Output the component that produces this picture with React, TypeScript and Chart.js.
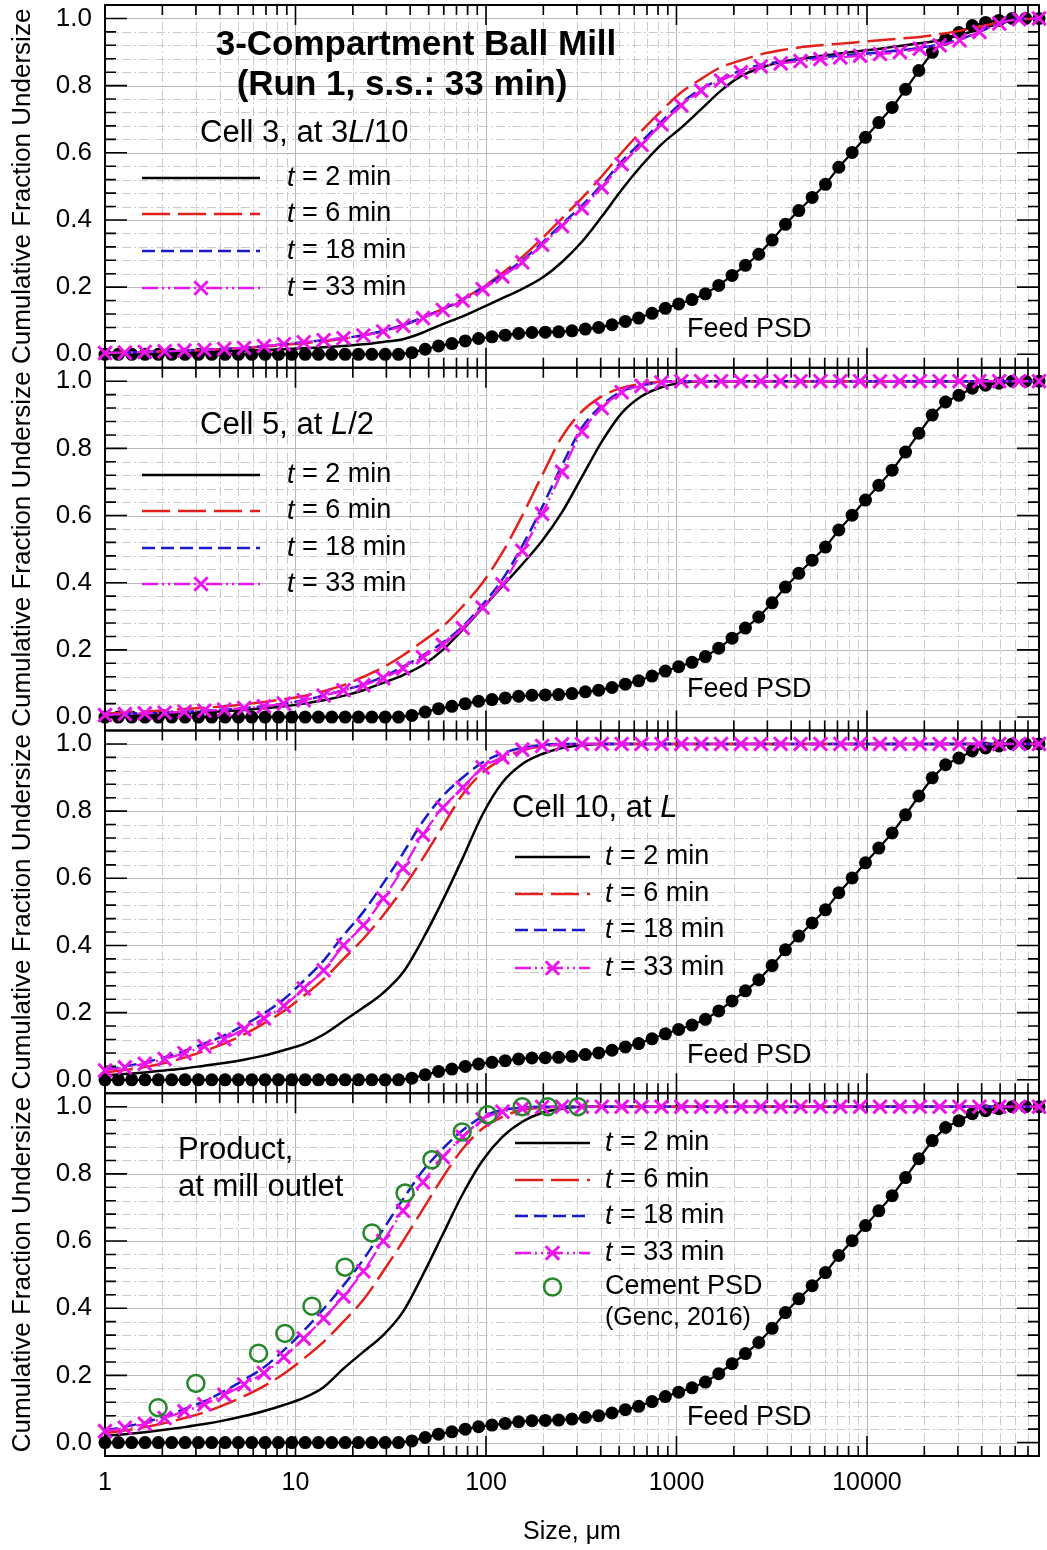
import React, { useEffect, useRef } from "react";
import { Chart, registerables } from "chart.js";

Chart.register(...registerables);

const FONT = "'Liberation Sans', Arial, Helvetica, sans-serif";

const X_MIN = 1;
const X_MAX = 80000;
const Y_MIN = -0.04;
const Y_MAX = 1.04;

const X_TICKS = [1, 10, 100, 1000, 10000];
const Y_TICKS = [0, 0.2, 0.4, 0.6, 0.8, 1.0];

// model size classes (µm)
const MODEL_SIZES = [1, 1.271, 1.617, 2.056, 2.614, 3.323, 4.226, 5.374, 6.833, 8.688, 11.05, 14.05, 17.86, 22.71, 28.88, 36.72, 46.69, 59.37, 75.49, 95.97, 122.0, 155.1, 197.2, 250.8, 318.9, 405.5, 515.6, 655.6, 833.7, 1060, 1348, 1714, 2179, 2771, 3524, 4480, 5697, 7244, 9210, 11710, 14890, 18930, 24070, 30610, 38920, 49490, 62920, 80000];

// feed PSD
const FEED_SIZES = [1, 1.175, 1.381, 1.622, 1.906, 2.24, 2.632, 3.093, 3.634, 4.27, 5.017, 5.894, 6.926, 8.138, 9.563, 11.24, 13.2, 15.51, 18.23, 21.42, 25.17, 29.57, 34.75, 40.83, 47.97, 56.37, 66.23, 77.83, 91.45, 107.5, 126.2, 148.4, 174.3, 204.8, 240.7, 282.8, 332.3, 390.5, 458.8, 539.1, 633.4, 744.3, 874.6, 1027, 1207, 1419, 1667, 1959, 2301, 2704, 3177, 3733, 4386, 5154, 6056, 7116, 8361, 9824, 11540, 13560, 15940, 18730, 22010, 25860, 30380, 35700, 41950, 49290, 57910, 68050, 80000];
const FEED_PSD = [0, 0, 0, 0, 0, 0, 0, 0, 0, 0,
  0, 0, 0, 0, 0, 0, 0, 0, 0, 0,
  0, 0, 0, 0.005, 0.015, 0.025, 0.032, 0.04, 0.047, 0.052,
  0.057, 0.062, 0.065, 0.066, 0.067, 0.07, 0.075, 0.08, 0.088, 0.098,
  0.108, 0.122, 0.137, 0.15, 0.163, 0.18, 0.205, 0.235, 0.265, 0.298,
  0.34, 0.387, 0.428, 0.467, 0.506, 0.557, 0.601, 0.646, 0.69, 0.735,
  0.789, 0.845, 0.899, 0.938, 0.958, 0.979, 0.988, 0.994, 1, 1,
  1];

// Cell 3, at 3L/10
const CELL3_T2 = [0.003, 0.004, 0.005, 0.006, 0.007, 0.008, 0.009, 0.011, 0.013, 0.015, 0.018, 0.021, 0.025, 0.03, 0.037, 0.045, 0.065, 0.09, 0.113, 0.14, 0.167, 0.195, 0.228, 0.275, 0.335, 0.41, 0.49, 0.562, 0.625, 0.675, 0.73, 0.785, 0.828, 0.853, 0.87, 0.88, 0.888, 0.896, 0.903, 0.91, 0.918, 0.926, 0.935, 0.95, 0.967, 0.985, 0.996, 1];
const CELL3_T6 = [0.004, 0.005, 0.007, 0.009, 0.011, 0.013, 0.016, 0.019, 0.023, 0.028, 0.033, 0.039, 0.046, 0.057, 0.069, 0.087, 0.11, 0.135, 0.165, 0.2, 0.242, 0.29, 0.345, 0.405, 0.465, 0.53, 0.6, 0.665, 0.725, 0.78, 0.82, 0.855, 0.875, 0.893, 0.905, 0.914, 0.92, 0.925, 0.93, 0.935, 0.94, 0.945, 0.953, 0.963, 0.975, 0.988, 0.997, 1];
const CELL3_T18 = [0.004, 0.005, 0.007, 0.009, 0.011, 0.013, 0.016, 0.019, 0.025, 0.03, 0.036, 0.042, 0.048, 0.057, 0.07, 0.087, 0.11, 0.135, 0.163, 0.198, 0.236, 0.28, 0.332, 0.388, 0.443, 0.505, 0.574, 0.633, 0.693, 0.748, 0.79, 0.82, 0.845, 0.862, 0.871, 0.878, 0.884, 0.889, 0.894, 0.899, 0.905, 0.913, 0.923, 0.937, 0.96, 0.985, 0.998, 1];
const CELL3_T33 = [0.004, 0.005, 0.007, 0.009, 0.011, 0.013, 0.016, 0.019, 0.025, 0.03, 0.036, 0.042, 0.048, 0.056, 0.068, 0.085, 0.108, 0.132, 0.16, 0.194, 0.232, 0.274, 0.326, 0.382, 0.435, 0.497, 0.566, 0.624, 0.685, 0.741, 0.785, 0.815, 0.84, 0.857, 0.866, 0.873, 0.879, 0.884, 0.889, 0.894, 0.9, 0.91, 0.92, 0.935, 0.96, 0.985, 0.998, 1];

// Cell 5, at L/2
const CELL5_T2 = [0.003, 0.005, 0.007, 0.009, 0.011, 0.014, 0.017, 0.021, 0.026, 0.032, 0.04, 0.05, 0.063, 0.08, 0.102, 0.125, 0.155, 0.2, 0.26, 0.325, 0.39, 0.455, 0.525, 0.61, 0.715, 0.82, 0.905, 0.955, 0.982, 0.995, 1, 1, 1, 1, 1, 1, 1, 1, 1, 1, 1, 1, 1, 1, 1, 1, 1, 1];
const CELL5_T6 = [0.01, 0.013, 0.016, 0.02, 0.024, 0.028, 0.032, 0.038, 0.045, 0.053, 0.063, 0.077, 0.095, 0.12, 0.148, 0.184, 0.226, 0.27, 0.33, 0.4, 0.49, 0.6, 0.72, 0.835, 0.91, 0.955, 0.98, 0.992, 0.998, 1, 1, 1, 1, 1, 1, 1, 1, 1, 1, 1, 1, 1, 1, 1, 1, 1, 1, 1];
const CELL5_T18 = [0.006, 0.009, 0.011, 0.013, 0.016, 0.019, 0.022, 0.027, 0.032, 0.04, 0.05, 0.064, 0.08, 0.097, 0.12, 0.15, 0.184, 0.222, 0.27, 0.335, 0.41, 0.51, 0.625, 0.75, 0.862, 0.928, 0.97, 0.988, 0.997, 1, 1, 1, 1, 1, 1, 1, 1, 1, 1, 1, 1, 1, 1, 1, 1, 1, 1, 1];
const CELL5_T33 = [0.006, 0.009, 0.011, 0.013, 0.016, 0.019, 0.022, 0.027, 0.032, 0.04, 0.05, 0.064, 0.08, 0.095, 0.116, 0.145, 0.178, 0.215, 0.265, 0.326, 0.395, 0.495, 0.605, 0.73, 0.85, 0.92, 0.967, 0.986, 0.996, 1, 1, 1, 1, 1, 1, 1, 1, 1, 1, 1, 1, 1, 1, 1, 1, 1, 1, 1];

// Cell 10, at L
const CELL10_T2 = [0.013, 0.017, 0.022, 0.028, 0.034, 0.042, 0.05, 0.06, 0.072, 0.088, 0.106, 0.135, 0.175, 0.215, 0.259, 0.32, 0.42, 0.535, 0.66, 0.79, 0.885, 0.94, 0.97, 0.988, 0.996, 1, 1, 1, 1, 1, 1, 1, 1, 1, 1, 1, 1, 1, 1, 1, 1, 1, 1, 1, 1, 1, 1, 1];
const CELL10_T6 = [0.022, 0.029, 0.038, 0.05, 0.066, 0.086, 0.108, 0.135, 0.168, 0.205, 0.25, 0.3, 0.36, 0.42, 0.49, 0.57, 0.66, 0.755, 0.85, 0.915, 0.955, 0.98, 0.993, 0.998, 1, 1, 1, 1, 1, 1, 1, 1, 1, 1, 1, 1, 1, 1, 1, 1, 1, 1, 1, 1, 1, 1, 1, 1];
const CELL10_T18 = [0.03, 0.04, 0.052, 0.067, 0.086, 0.108, 0.132, 0.163, 0.198, 0.24, 0.295, 0.355, 0.43, 0.5, 0.585, 0.675, 0.77, 0.845, 0.9, 0.945, 0.972, 0.988, 0.997, 1, 1, 1, 1, 1, 1, 1, 1, 1, 1, 1, 1, 1, 1, 1, 1, 1, 1, 1, 1, 1, 1, 1, 1, 1];
const CELL10_T33 = [0.028, 0.037, 0.048, 0.062, 0.079, 0.1, 0.121, 0.151, 0.183, 0.22, 0.272, 0.326, 0.4, 0.46, 0.54, 0.63, 0.73, 0.81, 0.87, 0.93, 0.96, 0.983, 0.994, 0.999, 1, 1, 1, 1, 1, 1, 1, 1, 1, 1, 1, 1, 1, 1, 1, 1, 1, 1, 1, 1, 1, 1, 1, 1];

// Product, at mill outlet
const PRODUCT_T2 = [0.02, 0.025, 0.031, 0.038, 0.046, 0.055, 0.066, 0.079, 0.094, 0.112, 0.133, 0.165, 0.22, 0.27, 0.32, 0.39, 0.5, 0.62, 0.74, 0.84, 0.91, 0.955, 0.982, 0.994, 1, 1, 1, 1, 1, 1, 1, 1, 1, 1, 1, 1, 1, 1, 1, 1, 1, 1, 1, 1, 1, 1, 1, 1];
const PRODUCT_T6 = [0.028, 0.036, 0.046, 0.058, 0.073, 0.09, 0.112, 0.138, 0.168, 0.205, 0.25, 0.3, 0.36, 0.425, 0.51, 0.6, 0.695, 0.79, 0.875, 0.935, 0.97, 0.99, 0.997, 1, 1, 1, 1, 1, 1, 1, 1, 1, 1, 1, 1, 1, 1, 1, 1, 1, 1, 1, 1, 1, 1, 1, 1, 1];
const PRODUCT_T18 = [0.036, 0.047, 0.06, 0.078, 0.1, 0.123, 0.153, 0.187, 0.224, 0.275, 0.333, 0.398, 0.468, 0.545, 0.635, 0.725, 0.81, 0.875, 0.93, 0.97, 0.99, 0.997, 1, 1, 1, 1, 1, 1, 1, 1, 1, 1, 1, 1, 1, 1, 1, 1, 1, 1, 1, 1, 1, 1, 1, 1, 1, 1];
const PRODUCT_T33 = [0.034, 0.044, 0.056, 0.073, 0.093, 0.114, 0.142, 0.173, 0.207, 0.255, 0.31, 0.37, 0.435, 0.51, 0.6, 0.69, 0.775, 0.85, 0.91, 0.962, 0.985, 0.995, 0.999, 1, 1, 1, 1, 1, 1, 1, 1, 1, 1, 1, 1, 1, 1, 1, 1, 1, 1, 1, 1, 1, 1, 1, 1, 1];

// Cement PSD (Genc, 2016)
const CEMENT_SIZES = [1.9, 3.0, 6.4, 8.8, 12.2, 18.2, 25.2, 37.6, 52, 75, 102, 155, 211, 304];
const CEMENT_PSD = [0.104, 0.176, 0.266, 0.325, 0.406, 0.522, 0.624, 0.743, 0.842, 0.925, 0.976, 1, 1, 1];

const SERIES = [
  { label: "2", color: "#000000", dash: [], width: 2.5, marker: false },
  { label: "6", color: "#e3211c", dash: [28, 8], width: 2.5, marker: false },
  { label: "18", color: "#1a1ac8", dash: [13, 6], width: 2.5, marker: false },
  { label: "33", color: "#ec14ec", dash: [16, 4, 2, 4, 2, 4], width: 2.3, marker: true },
];
const FEED_COLOR = "#000000";
const CEMENT_COLOR = "#25872a";

const PANELS = [
  { id: "y1", series: [CELL3_T2, CELL3_T6, CELL3_T18, CELL3_T33], cement: false },
  { id: "y2", series: [CELL5_T2, CELL5_T6, CELL5_T18, CELL5_T33], cement: false },
  { id: "y3", series: [CELL10_T2, CELL10_T6, CELL10_T18, CELL10_T33], cement: false },
  { id: "y4", series: [PRODUCT_T2, PRODUCT_T6, PRODUCT_T18, PRODUCT_T33], cement: true },
];

// annotation layout (pixel positions on the canvas)
const NOTES = [
  {
    texts: [
      { parts: [["3-Compartment Ball Mill", false]], x: 416, y: 45, size: 35, bold: true, align: "center" },
      { parts: [["(Run 1, s.s.: 33 min)", false]], x: 402, y: 85, size: 35, bold: true, align: "center" },
      { parts: [["Cell 3, at 3", false], ["L", true], ["/10", false]], x: 200, y: 133, size: 31 },
    ],
    legend: { x1: 142, x2: 260, tx: 287, rows: [178, 214, 251, 288] },
    feedY: 330,
  },
  {
    texts: [{ parts: [["Cell 5, at ", false], ["L", true], ["/2", false]], x: 200, y: 425, size: 31 }],
    legend: { x1: 142, x2: 260, tx: 287, rows: [475, 511, 548, 584] },
    feedY: 690,
  },
  {
    texts: [{ parts: [["Cell 10, at ", false], ["L", true]], x: 512, y: 808, size: 31 }],
    legend: { x1: 515, x2: 590, tx: 605, rows: [857, 894, 930, 968] },
    feedY: 1056,
  },
  {
    texts: [
      { parts: [["Product,", false]], x: 178, y: 1150, size: 31 },
      { parts: [["at mill outlet", false]], x: 178, y: 1187, size: 31 },
    ],
    legend: { x1: 515, x2: 590, tx: 605, rows: [1143, 1180, 1216, 1253] },
    cementRow: { y: 1287, y2: 1318 },
    feedY: 1418,
  },
];

function fontStr(size: number, italic: boolean, bold?: boolean) {
  return `${italic ? "italic " : ""}${bold ? "bold " : ""}${size}px ${FONT}`;
}

function drawParts(ctx: CanvasRenderingContext2D, parts: any[], x: number, y: number, size: number, bold?: boolean, align?: string) {
  const widths = parts.map(([t, it]) => {
    ctx.font = fontStr(size, it, bold);
    return ctx.measureText(t).width;
  });
  const total = widths.reduce((a: number, b: number) => a + b, 0);
  let cx = align === "center" ? x - total / 2 : x;
  ctx.fillStyle = "#000";
  ctx.textAlign = "left";
  ctx.textBaseline = "middle";
  parts.forEach(([t, it]: any, i: number) => {
    ctx.font = fontStr(size, it, bold);
    ctx.fillText(t, cx, y);
    cx += widths[i];
  });
}

function drawCross(ctx: CanvasRenderingContext2D, x: number, y: number, r: number, color: string, w: number) {
  const o = r * Math.SQRT1_2;
  ctx.save();
  ctx.setLineDash([]);
  ctx.strokeStyle = color;
  ctx.lineWidth = w;
  ctx.beginPath();
  ctx.moveTo(x - o, y - o);
  ctx.lineTo(x + o, y + o);
  ctx.moveTo(x - o, y + o);
  ctx.lineTo(x + o, y - o);
  ctx.stroke();
  ctx.restore();
}

const decorPlugin = {
  id: "panelDecor",
  beforeDatasetsDraw(chart: any) {
    const { ctx, chartArea } = chart;
    const xs = chart.scales.x;
    const { left, right } = chartArea;
    const xGrid: any[] = [];
    for (let d = 0; d < 5; d++) {
      for (let m = 1; m <= 9; m++) {
        const v = m * Math.pow(10, d);
        if (v >= X_MIN && v <= X_MAX) xGrid.push({ v, major: m === 1 });
      }
    }
    const yGrid: any[] = [];
    for (let k = 0; k <= 25; k++) yGrid.push({ v: k * 0.04, major: k % 5 === 0 });

    PANELS.forEach((p) => {
      const ys = chart.scales[p.id];
      const top = ys.top;
      const bottom = ys.bottom;
      ctx.save();
      ctx.lineWidth = 1;
      xGrid.forEach((g) => {
        const px = Math.round(xs.getPixelForValue(g.v)) + 0.5;
        ctx.strokeStyle = g.major ? "#b8b8b8" : "#cbcbcb";
        ctx.setLineDash(g.major ? [] : [9, 3, 2, 3]);
        ctx.beginPath();
        ctx.moveTo(px, top);
        ctx.lineTo(px, bottom);
        ctx.stroke();
      });
      yGrid.forEach((g) => {
        const py = Math.round(ys.getPixelForValue(g.v)) + 0.5;
        ctx.strokeStyle = g.major ? "#b8b8b8" : "#cbcbcb";
        ctx.setLineDash(g.major ? [] : [9, 3, 2, 3]);
        ctx.beginPath();
        ctx.moveTo(left, py);
        ctx.lineTo(right, py);
        ctx.stroke();
      });
      ctx.setLineDash([]);
      ctx.strokeStyle = "#000";
      ctx.lineWidth = 1.6;
      ctx.beginPath();
      xGrid.forEach((g) => {
        const px = xs.getPixelForValue(g.v);
        const len = g.major ? 20 : 10;
        ctx.moveTo(px, top);
        ctx.lineTo(px, top + len);
        ctx.moveTo(px, bottom);
        ctx.lineTo(px, bottom - len);
      });
      yGrid.forEach((g) => {
        const py = ys.getPixelForValue(g.v);
        const len = g.major ? 22 : 11;
        ctx.moveTo(left, py);
        ctx.lineTo(left + len, py);
        ctx.moveTo(right, py);
        ctx.lineTo(right - len, py);
      });
      ctx.stroke();
      ctx.lineWidth = 2;
      ctx.strokeRect(left, top, right - left, bottom - top);
      ctx.restore();
    });
  },
  afterDraw(chart: any) {
    const { ctx, chartArea } = chart;
    const xs = chart.scales.x;
    ctx.save();
    // y tick labels
    PANELS.forEach((p) => {
      const ys = chart.scales[p.id];
      ctx.font = fontStr(26, false);
      ctx.fillStyle = "#000";
      ctx.textAlign = "right";
      ctx.textBaseline = "middle";
      Y_TICKS.forEach((v) => {
        ctx.fillText(v.toFixed(1), chartArea.left - 13, ys.getPixelForValue(v));
      });
    });
    // x tick labels
    ctx.font = fontStr(25, false);
    ctx.textAlign = "center";
    ctx.textBaseline = "middle";
    X_TICKS.forEach((v) => {
      ctx.fillText(String(v), xs.getPixelForValue(v), chartArea.bottom + 27);
    });
    // annotations and legends
    NOTES.forEach((n: any) => {
      n.texts.forEach((t: any) => drawParts(ctx, t.parts, t.x, t.y, t.size, t.bold, t.align));
      const lg = n.legend;
      SERIES.forEach((s, k) => {
        const cy = lg.rows[k];
        ctx.save();
        ctx.strokeStyle = s.color;
        ctx.lineWidth = s.width;
        ctx.setLineDash(s.dash);
        ctx.beginPath();
        ctx.moveTo(lg.x1, cy);
        ctx.lineTo(lg.x2, cy);
        ctx.stroke();
        ctx.restore();
        if (s.marker) drawCross(ctx, (lg.x1 + lg.x2) / 2, cy, 9.5, s.color, 3);
        drawParts(ctx, [["t", true], [" = " + s.label + " min", false]], lg.tx, cy, 27);
      });
      if (n.cementRow) {
        ctx.save();
        ctx.strokeStyle = CEMENT_COLOR;
        ctx.lineWidth = 2.5;
        ctx.setLineDash([]);
        ctx.beginPath();
        ctx.arc((lg.x1 + lg.x2) / 2, n.cementRow.y, 8.5, 0, Math.PI * 2);
        ctx.stroke();
        ctx.restore();
        drawParts(ctx, [["Cement PSD", false]], lg.tx, n.cementRow.y, 27);
        drawParts(ctx, [["(Genc, 2016)", false]], lg.tx, n.cementRow.y2, 25);
      }
      drawParts(ctx, [["Feed PSD", false]], 687, n.feedY, 27);
    });
    ctx.restore();
  },
};

export default function App() {
  const canvasRef = useRef<HTMLCanvasElement | null>(null);

  useEffect(() => {
    const canvas = canvasRef.current;
    if (!canvas) return;
    Chart.defaults.font.family = FONT;
    Chart.defaults.color = "#000";

    const datasets: any[] = [];
    PANELS.forEach((p) => {
      datasets.push({
        label: "Feed PSD",
        data: FEED_SIZES.map((x, i) => ({ x, y: FEED_PSD[i] })),
        xAxisID: "x",
        yAxisID: p.id,
        borderColor: FEED_COLOR,
        borderWidth: 2.2,
        pointStyle: "circle",
        pointRadius: 6.5,
        pointBackgroundColor: FEED_COLOR,
        pointBorderColor: FEED_COLOR,
        pointBorderWidth: 0,
        tension: 0,
        clip: false,
        order: 5,
      });
      p.series.forEach((vals, k) => {
        const s = SERIES[k];
        datasets.push({
          label: "t = " + s.label + " min",
          data: MODEL_SIZES.map((x, i) => ({ x, y: vals[i] })),
          xAxisID: "x",
          yAxisID: p.id,
          borderColor: s.color,
          borderWidth: s.width,
          borderDash: s.dash,
          cubicInterpolationMode: "monotone",
          pointStyle: "crossRot",
          pointRadius: s.marker ? 9.5 : 0,
          pointBorderColor: s.color,
          pointBackgroundColor: s.color,
          pointBorderWidth: 3,
          clip: false,
          order: 4 - k,
        });
      });
      if (p.cement) {
        datasets.push({
          label: "Cement PSD (Genc, 2016)",
          data: CEMENT_SIZES.map((x, i) => ({ x, y: CEMENT_PSD[i] })),
          xAxisID: "x",
          yAxisID: p.id,
          showLine: false,
          pointStyle: "circle",
          pointRadius: 8.5,
          pointBorderColor: CEMENT_COLOR,
          pointBackgroundColor: "rgba(0,0,0,0)",
          pointBorderWidth: 2.5,
          clip: false,
          order: 0,
        });
      }
    });

    const yAxis = (id: string) => ({
      type: "linear",
      position: "left",
      stack: "panels",
      stackWeight: 1,
      min: Y_MIN,
      max: Y_MAX,
      grid: { display: false, drawTicks: false },
      border: { display: false },
      ticks: { display: false },
      title: {
        display: true,
        text: "Cumulative Fraction Undersize",
        color: "#000",
        font: { size: 26, family: FONT },
        padding: { top: 7, bottom: 0 },
      },
      afterFit: (scale: any) => {
        scale.width = 105;
      },
    });

    const chart = new Chart(canvas, {
      type: "line",
      data: { datasets },
      options: {
        responsive: false,
        maintainAspectRatio: false,
        animation: false,
        devicePixelRatio: 1,
        layout: { autoPadding: false, padding: { top: 5, right: 8, bottom: 0, left: 0 } },
        plugins: { legend: { display: false }, tooltip: { enabled: false }, title: { display: false } },
        events: [],
        scales: {
          x: {
            type: "logarithmic",
            position: "bottom",
            min: X_MIN,
            max: X_MAX,
            grid: { display: false, drawTicks: false },
            border: { display: false },
            ticks: { display: false },
            title: {
              display: true,
              text: "Size, μm",
              color: "#000",
              font: { size: 25, family: FONT },
              padding: { top: 0, bottom: 3 },
            },
            afterFit: (scale: any) => {
              scale.height = 94;
            },
          },
          y4: yAxis("y4"),
          y3: yAxis("y3"),
          y2: yAxis("y2"),
          y1: yAxis("y1"),
        },
      } as any,
      plugins: [decorPlugin],
    } as any);

    return () => chart.destroy();
  }, []);

  return (
    <div style={{ position: "absolute", left: 0, top: 0, width: 1047, height: 1550, background: "#fff", overflow: "hidden" }}>
      <canvas ref={canvasRef} width={1047} height={1550} style={{ display: "block", width: 1047, height: 1550 }} />
    </div>
  );
}
